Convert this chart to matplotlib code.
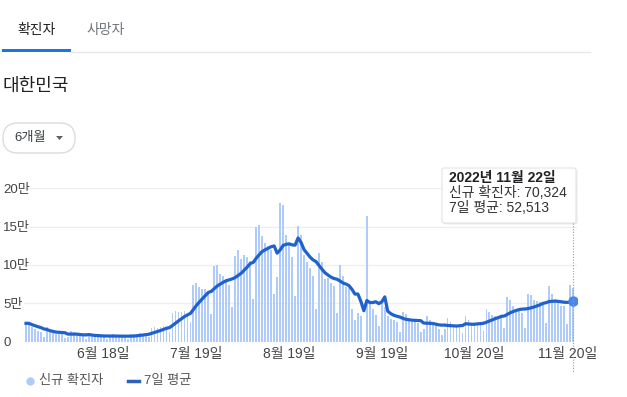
import numpy as np
import pandas as pd
import matplotlib
matplotlib.use("Agg")
import matplotlib.pyplot as plt
import matplotlib.dates as mdates
from matplotlib.patches import FancyBboxPatch, Rectangle, Polygon
from matplotlib.lines import Line2D
from matplotlib.transforms import Affine2D

plt.rcParams['font.family'] = ['Liberation Sans', 'Noto Sans CJK KR', 'DejaVu Sans']

# daily new cases, 2022-05-23 .. 2022-11-22
start_date = '2022-05-23'
daily = [
    23956, 23945, 18816, 16584, 14410, 12542, 6141,
    18816, 13358, 12045, 10463, 12542, 9832, 5022,
    6171, 13358, 12178, 10003, 9001, 7382, 3828,
    9429, 9435, 8433, 7986, 7197, 6068, 3530,
    9310, 9870, 7494, 7227, 6242, 6788, 3423,
    9896, 10455, 9591, 10715, 10059, 10410, 6249,
    18147, 19371, 18511, 19323, 20410, 20261, 12693,
    37360, 40266, 39196, 38882, 40342, 35879, 26299,
    73582, 76402, 71170, 68632, 68551, 65433, 35883,
    99327, 100285, 88384, 85320, 82002, 73589, 44689,
    111789, 119922, 107894, 112901, 110666, 105507, 55292,
    149897, 151792, 137241, 128714, 124592, 119603, 62078,
    84128, 180803, 178574, 138812, 128969, 110701, 59046,
    150320, 139339, 113371, 103961, 95604, 85295, 43142,
    115615, 103955, 81573, 83454, 76733, 72144, 36938,
    99837, 85540, 71476, 69880, 43001, 28214, 37220,
    33210, 0, 164000, 51877, 43012, 35127, 20012,
    49882, 44960, 33027, 30212, 28449, 26014, 13197,
    38177, 35926, 28478, 26237, 27178, 24016, 12148,
    16423, 34063, 28127, 24018, 22093, 17185, 9195,
    17183, 30518, 26233, 22305, 20292, 20124, 11112,
    33246, 28221, 24132, 22009, 24012, 22122, 14219,
    43051, 39248, 35129, 33312, 33287, 33204, 17411,
    58364, 54013, 46371, 43135, 41209, 37051, 18512,
    62273, 61106, 54111, 53196, 51285, 50108, 24341,
    72873, 62472, 55906, 51338, 47028, 46386, 23091,
    73518, 70324,
]

tick_dates = ['2022-06-18', '2022-07-19', '2022-08-19', '2022-09-19', '2022-10-20', '2022-11-20']
tick_labels = ['6월 18일', '7월 19일', '8월 19일', '9월 19일', '10월 20일', '11월 20일']
y_ticks = [0, 50000, 100000, 150000, 200000]
y_labels = ['0', '5만', '10만', '15만', '20만']

dates = pd.date_range(start_date, periods=len(daily), freq='D')
s = pd.Series(daily, index=dates)
avg = s.rolling(7, min_periods=1).mean()

W, H = 627, 397
fig = plt.figure(figsize=(W / 100, H / 100), dpi=100)
# pixel coords measured from the top-left corner
px = Affine2D().scale(1 / 100, -1 / 100).translate(0, H / 100) + fig.dpi_scale_trans

ax = fig.add_axes([24 / W, 1 - 341.7 / H, 553 / W, (341.7 - 188.3) / H])
ax.bar(dates, s.values, width=0.62, color='#aecbfa', linewidth=0, zorder=2)
ax.plot(dates, avg.values, color='#1f62cc', lw=2.3, solid_joinstyle='round', zorder=3)
ax.plot(dates[-1], avg.values[-1], 'o', ms=6.5, color='#4a86e8', zorder=4)

ax.set_xlim(dates[0] - pd.Timedelta(hours=16), dates[-1] + pd.Timedelta(hours=31))
ax.set_ylim(0, 200000)
ax.set_yticks(y_ticks, y_labels)
for lbl in ax.get_yticklabels():
    lbl.set_horizontalalignment('left')
ax.tick_params(axis='y', length=0, pad=15.1, labelsize=9.5, labelcolor='#444444')
ax.set_xticks(pd.to_datetime(tick_dates), tick_labels)
ax.tick_params(axis='x', length=0, pad=4, labelsize=10, labelcolor='#444444')
ax.yaxis.grid(True, color='#eeeeee', lw=0.9)
ax.set_axisbelow(True)
for sp in ax.spines.values():
    sp.set_visible(False)

# tabs
fig.text(37, 30, '확진자', transform=px, ha='center', va='center', fontsize=10, color='#202124')
fig.text(106, 30, '사망자', transform=px, ha='center', va='center', fontsize=10, color='#70757a')
fig.add_artist(Line2D([71, 590], [51.5, 51.5], transform=px, color='#e6e6e6', lw=1))
fig.add_artist(Rectangle((2, 49.3), 69, 2.8, transform=px, color='#1a73e8', lw=0))

fig.text(3, 86, '대한민국', transform=px, ha='left', va='center', fontsize=13, color='#202124')

# period button
fig.add_artist(FancyBboxPatch((3, 123), 72, 30, boxstyle='round,pad=0,rounding_size=15',
                              transform=px, facecolor='white', edgecolor='#dadce0', lw=1))
fig.text(14, 138, '6개월', transform=px, ha='left', va='center', fontsize=9.5, color='#3c4043')
fig.add_artist(Polygon([(56, 136), (63, 136), (59.5, 140)], closed=True, transform=px,
                       color='#5f6368', lw=0))

# hover line and tooltip
xd = ax.transData.transform((mdates.date2num(dates[-1]), 0))[0]
xp = xd / fig.dpi * 100
fig.add_artist(Line2D([xp, xp], [223, 372], transform=px, color='#9e9e9e', lw=0.8, ls=(0, (1, 1.5))))
fig.add_artist(FancyBboxPatch((443.5, 169.5), 134, 55, boxstyle='round,pad=0,rounding_size=2',
                              transform=px, facecolor='#000000', alpha=0.08, lw=0))
fig.add_artist(FancyBboxPatch((442, 168), 134, 55, boxstyle='round,pad=0,rounding_size=2',
                              transform=px, facecolor='white', edgecolor='#e3e3e3', lw=0.8))
last = dates[-1]
fig.text(449, 178, f'{last.year}년 {last.month}월 {last.day}일', transform=px, ha='left', va='center',
         fontsize=10, fontweight='bold', color='#202124')
fig.text(449, 193, f'신규 확진자: {daily[-1]:,}', transform=px, ha='left', va='center',
         fontsize=10, color='#333333')
fig.text(449, 208, f'7일 평균: {round(avg.values[-1]):,}', transform=px, ha='left', va='center',
         fontsize=10, color='#333333')

# legend
fig.add_artist(Line2D([30], [381], transform=px, marker='o', ms=5, color='#aecbfa', lw=0))
fig.text(39, 381, '신규 확진자', transform=px, ha='left', va='center', fontsize=9.5, color='#555555')
fig.add_artist(Line2D([128, 139], [381, 381], transform=px, color='#2a62b8', lw=2.5))
fig.text(144, 381, '7일 평균', transform=px, ha='left', va='center', fontsize=9.5, color='#555555')

fig.savefig('out.png', dpi=100)
